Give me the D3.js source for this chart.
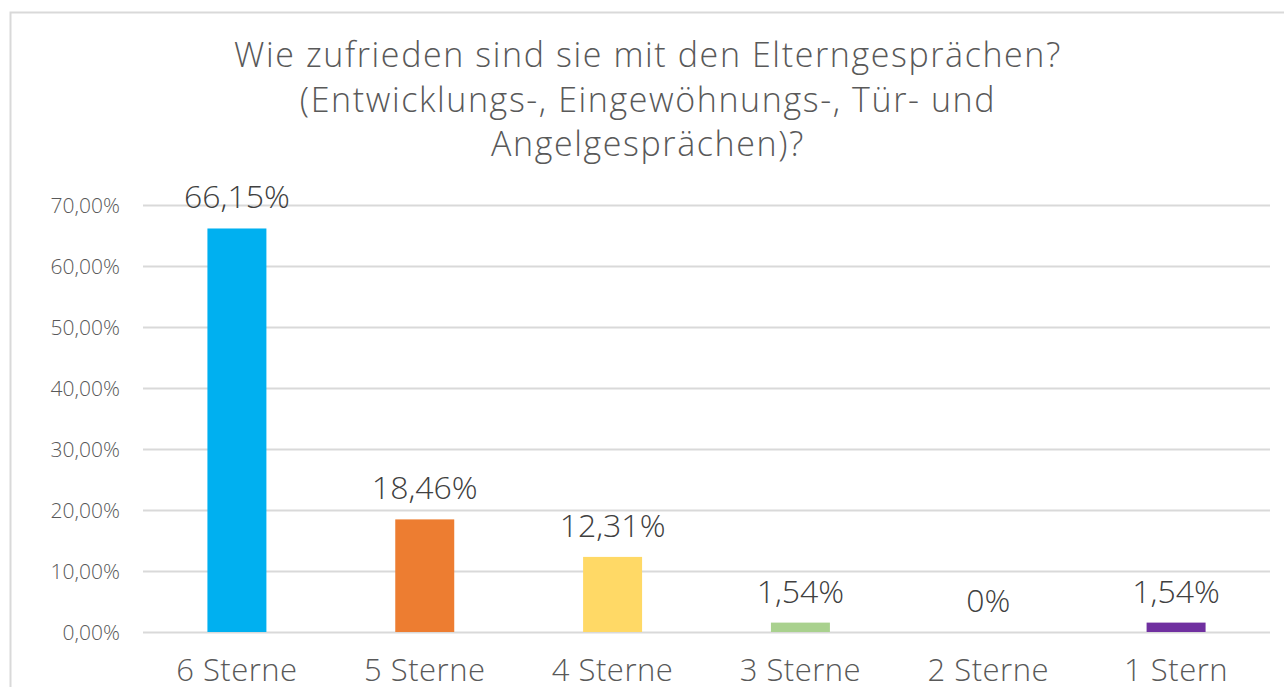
<!DOCTYPE html>
<html lang="de">
<head>
  <meta charset="UTF-8">
  <title>Elterngespräche</title>
  <script src="https://d3js.org/d3.v7.min.js"></script>
  <style>
    body { margin: 0; background: #fff; overflow: hidden; }
    svg { display: block; font-family: "Open Sans", "Noto Sans", sans-serif; font-weight: 300; }
  </style>
</head>
<body>
  <script>
    const categories = ["6 Sterne", "5 Sterne", "4 Sterne", "3 Sterne", "2 Sterne", "1 Stern"];
    const values = [66.15, 18.46, 12.31, 1.54, 0, 1.54];
    const valueLabels = ["66,15%", "18,46%", "12,31%", "1,54%", "0%", "1,54%"];
    const colors = ["#00b0f0", "#ed7d31", "#ffd966", "#a9d18e", "#a5a5a5", "#7030a0"];
    const ticks = [0, 10, 20, 30, 40, 50, 60, 70];
    const titleLines = [
      "Wie zufrieden sind sie mit den Elterngesprächen?",
      "(Entwicklungs-, Eingewöhnungs-, Tür- und",
      "Angelgesprächen)?"
    ];

    const W = 1284, H = 687;
    const svg = d3.select("body").append("svg").attr("width", W).attr("height", H);

    // chart frame
    svg.append("rect")
      .attr("x", 10.5).attr("y", 12.5)
      .attr("width", 1300).attr("height", 700)
      .attr("fill", "none").attr("stroke", "#d9d9d9").attr("stroke-width", 2);

    const x = d3.scaleBand().domain(categories).range([143, 1270]).paddingInner(0.686).paddingOuter(0.343);
    const y = d3.scaleLinear().domain([0, 70]).range([632, 205]);

    svg.append("g")
      .selectAll("text")
      .data(titleLines)
      .join("text")
      .attr("x", 648)
      .attr("y", (d, i) => 67 + i * 44.5)
      .attr("text-anchor", "middle")
      .attr("font-size", 34)
      .attr("letter-spacing", 1.6)
      .attr("fill", "#595959")
      .text(d => d);

    const yAxis = svg.append("g")
      .attr("transform", "translate(143,0)")
      .call(d3.axisLeft(y).tickValues(ticks).tickSize(-1127)
        .tickFormat(d => d3.format(".2f")(d).replace(".", ",") + "%"));
    yAxis.select(".domain").remove();
    yAxis.selectAll(".tick line").attr("stroke", "#d9d9d9").attr("stroke-width", 2);
    yAxis.selectAll(".tick text")
      .attr("x", -23).attr("dy", "0.35em")
      .attr("font-size", 21).attr("fill", "#595959")
      .attr("font-family", "'Open Sans', 'Noto Sans', sans-serif");

    svg.append("g")
      .selectAll("rect")
      .data(values)
      .join("rect")
      .attr("x", (d, i) => x(categories[i]))
      .attr("width", x.bandwidth())
      .attr("y", d => y(d))
      .attr("height", d => y(0) - y(d))
      .attr("fill", (d, i) => colors[i]);

    svg.append("g")
      .selectAll("text")
      .data(values)
      .join("text")
      .attr("x", (d, i) => x(categories[i]) + x.bandwidth() / 2)
      .attr("y", d => y(d) - 20)
      .attr("text-anchor", "middle")
      .attr("font-size", 32)
      .attr("fill", "#404040")
      .text((d, i) => valueLabels[i]);

    svg.append("g")
      .selectAll("text")
      .data(categories)
      .join("text")
      .attr("x", d => x(d) + x.bandwidth() / 2)
      .attr("y", 681)
      .attr("text-anchor", "middle")
      .attr("font-size", 31)
      .attr("letter-spacing", 0.5)
      .attr("fill", "#595959")
      .text(d => d);
  </script>
</body>
</html>
